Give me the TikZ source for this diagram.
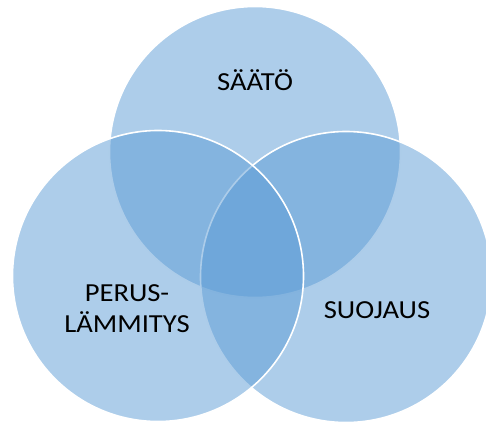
\documentclass[tikz,border=0pt]{standalone}
\usepackage{fontspec}
\setmainfont{Carlito}[FakeStretch=1.1]
\usepackage{tikz}
\usetikzlibrary{positioning}
\definecolor{venblue}{HTML}{5B9BD5}

\begin{document}
\begin{tikzpicture}[
  x=1pt,y=-1pt,
  setcirc/.style={circle,draw=white,line width=1.6pt,fill=venblue,fill opacity=0.5,minimum size=291pt,inner sep=0pt},
  lab/.style={text=black,font=\fontsize{26}{31}\selectfont,align=center,inner sep=0pt}
]
\useasboundingbox (0,0) rectangle (486,423);

\node[setcirc] (saato) at (255,152) {};
\node[setcirc] (suojaus) at (346,277) {};
\node[setcirc] (perus) at (158,276) {};

\node[lab] (saatolab) at (255,80) {SÄÄTÖ};
\node[lab] (peruslab) at (127,309) {PERUS-\\LÄMMITYS};
\node[lab] (suojauslab) at (377,310) {SUOJAUS};
\end{tikzpicture}
\end{document}
